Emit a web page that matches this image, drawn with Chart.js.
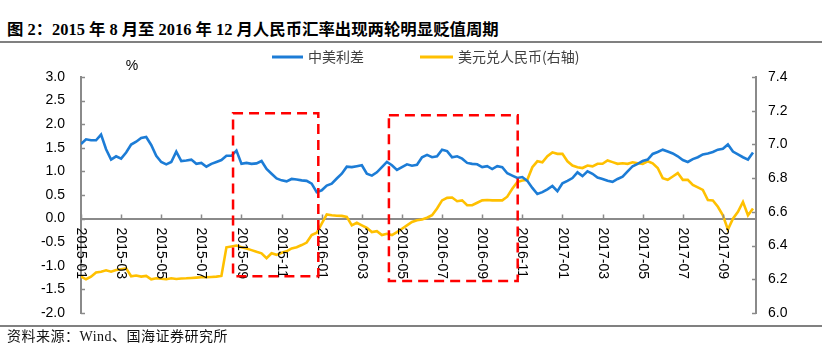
<!DOCTYPE html>
<html>
<head>
<meta charset="utf-8">
<script src="https://cdn.jsdelivr.net/npm/chart.js@4.4.1/dist/chart.umd.min.js"></script>
<style>
  body { margin: 0; background: #fff; }
  #wrap { position: relative; width: 822px; height: 347px; overflow: hidden; }
  #chart { position: absolute; left: 0; top: 0; }
  .title { position: absolute; left: 7px; top: 20px; font: bold 16.4px "Liberation Serif", "Noto Sans CJK SC", serif; color: #000; white-space: nowrap; line-height: 20px; }
  .rule { position: absolute; left: 0; width: 822px; height: 2px; background: #808080; }
  .source { position: absolute; left: 7px; top: 328px; font: 14px "Liberation Serif", "Noto Sans CJK SC", serif; color: #111; white-space: nowrap; line-height: 18px; letter-spacing: 0.5px; }
</style>
</head>
<body>
<div id="wrap">
  <div class="title">图 2：2015 年 8 月至 2016 年 12 月人民币汇率出现两轮明显贬值周期</div>
  <div class="rule" style="top:41px"></div>
  <canvas id="chart" width="822" height="347"></canvas>
  <div class="rule" style="top:325px"></div>
  <div class="source">资料来源：Wind、国海证券研究所</div>
</div>
<script>
//x values are months counted from 2015-01, one point every quarter month
var step = 0.25;

//中美利差 (%), left axis
var spread = [
  1.58, 1.68, 1.66, 1.66, 1.78, 1.47, 1.25, 1.32, 1.27, 1.40,
  1.57, 1.63, 1.71, 1.73, 1.56, 1.33, 1.20, 1.15, 1.20, 1.42,
  1.22, 1.23, 1.25, 1.16, 1.18, 1.10, 1.16, 1.20, 1.24, 1.33,
  1.33, 1.44, 1.16, 1.18, 1.16, 1.17, 1.22, 1.05, 0.95, 0.85,
  0.81, 0.79, 0.84, 0.83, 0.81, 0.80, 0.74, 0.56, 0.60, 0.70,
  0.74, 0.85, 0.95, 1.10, 1.09, 1.11, 1.13, 0.95, 0.91, 0.98,
  1.09, 1.20, 1.13, 1.03, 1.09, 1.15, 1.12, 1.14, 1.30, 1.35,
  1.30, 1.32, 1.46, 1.43, 1.30, 1.32, 1.27, 1.18, 1.16, 1.15,
  1.09, 1.11, 1.05, 1.11, 1.09, 0.96, 0.91, 0.86, 0.88, 0.80,
  0.65, 0.52, 0.56, 0.62, 0.69, 0.58, 0.75, 0.80, 0.86, 0.98,
  0.90, 1.00, 0.95, 0.87, 0.84, 0.80, 0.78, 0.84, 0.89, 1.00,
  1.11, 1.16, 1.22, 1.25, 1.37, 1.41, 1.46, 1.42, 1.38, 1.32,
  1.24, 1.20, 1.26, 1.30, 1.36, 1.38, 1.41, 1.46, 1.48, 1.57,
  1.42, 1.36, 1.30, 1.25, 1.40
];

//美元兑人民币, right axis
var usdcny = [
  6.216, 6.200, 6.215, 6.240, 6.245, 6.253, 6.245, 6.255, 6.260, 6.265,
  6.218, 6.222, 6.216, 6.220, 6.200, 6.206, 6.203, 6.200, 6.206, 6.202,
  6.205, 6.206, 6.208, 6.210, 6.212, 6.212, 6.214, 6.216, 6.220, 6.390,
  6.395, 6.400, 6.390, 6.383, 6.373, 6.363, 6.354, 6.325, 6.354, 6.345,
  6.357, 6.366, 6.383, 6.390, 6.403, 6.418, 6.462, 6.476, 6.530, 6.585,
  6.580, 6.577, 6.576, 6.570, 6.520, 6.535, 6.520, 6.505, 6.480, 6.485,
  6.462, 6.470, 6.462, 6.480, 6.500, 6.520, 6.540, 6.550, 6.555, 6.565,
  6.580, 6.620, 6.668, 6.683, 6.685, 6.663, 6.668, 6.640, 6.639, 6.654,
  6.668, 6.670, 6.668, 6.668, 6.668, 6.690, 6.737, 6.777, 6.786, 6.790,
  6.865, 6.900, 6.894, 6.930, 6.953, 6.944, 6.944, 6.900, 6.875, 6.865,
  6.860, 6.875, 6.870, 6.885, 6.885, 6.905, 6.895, 6.885, 6.888, 6.885,
  6.894, 6.888, 6.885, 6.900, 6.888, 6.860, 6.800, 6.790, 6.810, 6.830,
  6.790, 6.790, 6.760, 6.745, 6.730, 6.670, 6.668, 6.630, 6.580, 6.495,
  6.560, 6.600, 6.659, 6.580, 6.620
];

//tick labels, one every two months
var tickLabels = ["2015-01", "2015-03", "2015-05", "2015-07", "2015-09", "2015-11",
  "2016-01", "2016-03", "2016-05", "2016-07", "2016-09", "2016-11",
  "2017-01", "2017-03", "2017-05", "2017-07", "2017-09"];

//two depreciation cycles: [start month, end month, top %, bottom %]
var cycles = [[7.58, 11.83, 2.23, -1.22], [15.35, 21.77, 2.19, -1.32]];

var seriesNames = ["中美利差", "美元兑人民币(右轴)"];
var blue = "#1c7cd6";
var gold = "#ffc000";
var axisGray = "#8a8a8a";

function toPoints(arr){
    return arr.map(function(v, i){ return {x: i * step, y: v}; });
}

//draws inner ticks, rotated dates, the cycle boxes, legend and unit
var decor = {
    id: "decor",
    afterDraw: function(chart){
        var ctx = chart.ctx;
        var a = chart.chartArea;
        var x = chart.scales.x, y = chart.scales.y, y1 = chart.scales.y1;
        var y0 = y.getPixelForValue(0);
        ctx.save();

        //ticks pointing inside
        ctx.strokeStyle = axisGray;
        ctx.lineWidth = 1.5;
        ctx.beginPath();
        y.ticks.forEach(function(t){
            var py = Math.round(y.getPixelForValue(t.value)) + 0.5;
            ctx.moveTo(a.left, py); ctx.lineTo(a.left + 4, py);
        });
        y1.ticks.forEach(function(t){
            var py = Math.round(y1.getPixelForValue(t.value)) + 0.5;
            ctx.moveTo(a.right, py); ctx.lineTo(a.right - 4, py);
        });
        tickLabels.forEach(function(lab, i){
            var px = Math.round(x.getPixelForValue(i * 2)) + 0.5;
            ctx.moveTo(px, y0); ctx.lineTo(px, y0 - 4);
        });
        ctx.stroke();

        //date labels reading downwards
        ctx.fillStyle = "#000";
        ctx.font = "14px 'Liberation Sans', Arial, sans-serif";
        ctx.textAlign = "left";
        ctx.textBaseline = "middle";
        tickLabels.forEach(function(lab, i){
            var px = x.getPixelForValue(i * 2);
            ctx.save();
            ctx.translate(px, y0 + 9);
            ctx.rotate(Math.PI / 2);
            ctx.fillText(lab, 0, 0);
            ctx.restore();
        });

        //red dashed boxes
        ctx.strokeStyle = "#ff0000";
        ctx.lineWidth = 2.5;
        ctx.setLineDash([10, 6]);
        cycles.forEach(function(c){
            var l = x.getPixelForValue(c[0]), r = x.getPixelForValue(c[1]);
            var t = y.getPixelForValue(c[2]), b = y.getPixelForValue(c[3]);
            ctx.strokeRect(l, t, r - l, b - t);
        });
        ctx.setLineDash([]);

        //legend
        var items = [[272, 303, 308, blue], [420, 453, 458, gold]];
        ctx.font = "14px 'Noto Sans CJK SC', sans-serif";
        ctx.textBaseline = "middle";
        items.forEach(function(it, i){
            ctx.strokeStyle = it[3];
            ctx.lineWidth = 3;
            ctx.beginPath();
            ctx.moveTo(it[0], 57); ctx.lineTo(it[1], 57);
            ctx.stroke();
            ctx.fillStyle = "#404040";
            ctx.fillText(seriesNames[i], it[2], 57);
        });

        //unit
        ctx.fillStyle = "#000";
        ctx.font = "14px 'Liberation Sans', Arial, sans-serif";
        ctx.textAlign = "center";
        ctx.fillText("%", 132, 66);
        ctx.restore();
    }
};

var myChart = new Chart(document.getElementById("chart"), {
    type: "line",
    data: {
        datasets: [
            {label: seriesNames[0], data: toPoints(spread), yAxisID: "y",
             borderColor: blue, backgroundColor: blue, borderWidth: 2.6,
             pointRadius: 0, tension: 0, fill: false},
            {label: seriesNames[1], data: toPoints(usdcny), yAxisID: "y1",
             borderColor: gold, backgroundColor: gold, borderWidth: 2.6,
             pointRadius: 0, tension: 0, fill: false}
        ]
    },
    options: {
        responsive: false,
        animation: false,
        layout: {padding: {top: 77, bottom: 34, left: 0, right: 0}},
        plugins: {legend: {display: false}, tooltip: {enabled: false}},
        scales: {
            x: {
                type: "linear", min: 0, max: 33.65,
                position: {y: 0},
                ticks: {display: false},
                grid: {drawOnChartArea: false, drawTicks: false},
                border: {color: axisGray, width: 2}
            },
            y: {
                position: "left", min: -2, max: 3,
                ticks: {stepSize: 0.5, padding: 16, color: "#000",
                        font: {family: "'Liberation Sans', Arial", size: 14},
                        callback: function(v){ return v.toFixed(1); }},
                grid: {drawOnChartArea: false, drawTicks: false},
                border: {color: axisGray, width: 2},
                afterFit: function(s){ s.width = 81; }
            },
            y1: {
                position: "right", min: 6.0, max: 7.4,
                ticks: {stepSize: 0.2, padding: 12, color: "#000",
                        font: {family: "'Liberation Sans', Arial", size: 14},
                        callback: function(v){ return v.toFixed(1); }},
                grid: {drawOnChartArea: false, drawTicks: false},
                border: {color: axisGray, width: 2},
                afterFit: function(s){ s.width = 66; }
            }
        }
    },
    plugins: [decor]
});
</script>
</body>
</html>
